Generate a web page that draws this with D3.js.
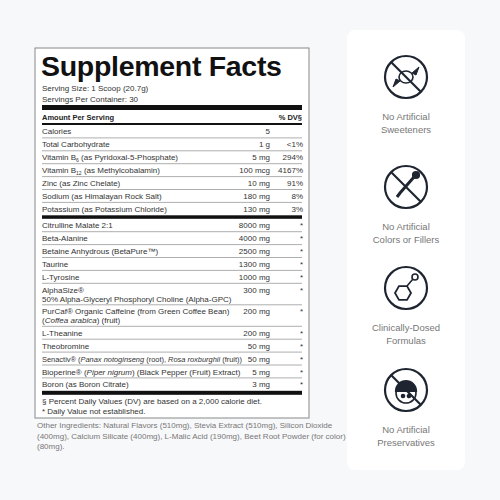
<!DOCTYPE html>
<html><head><meta charset="utf-8">
<script src="https://cdn.jsdelivr.net/npm/d3@7"></script>
<style>body{margin:0;background:#f7f8fa}svg{display:block}</style>
</head><body>
<script>
const title = "Supplement Facts";
const servingLines = ["Serving Size: 1 Scoop (20.7g)", "Servings Per Container: 30"];
const nutrients = ["Calories","Total Carbohydrate","Vitamin B6 (as Pyridoxal-5-Phosphate)","Vitamin B12 (as Methylcobalamin)","Zinc (as Zinc Chelate)","Sodium (as Himalayan Rock Salt)","Potassium (as Potassium Chloride)"];
const nutrientAmounts = ["5","1 g","5 mg","100 mcg","10 mg","180 mg","130 mg"];
const nutrientDV = ["","<1%","294%","4167%","91%","8%","3%"];
const blend = ["Citrulline Malate 2:1","Beta-Alanine","Betaine Anhydrous (BetaPure™)","Taurine","L-Tyrosine","AlphaSize®|50% Alpha-Glyceryl Phosphoryl Choline (Alpha-GPC)","PurCaf® Organic Caffeine (from Green Coffee Bean)|(Coffea arabica) (fruit)","L-Theanine","Theobromine","Senactiv® (Panax notoginseng (root), Rosa roxburghii (fruit))","Bioperine® (Piper nigrum) (Black Pepper (Fruit) Extract)","Boron (as Boron Citrate)"];
const blendAmounts = ["8000 mg","4000 mg","2500 mg","1300 mg","1000 mg","300 mg","200 mg","200 mg","50 mg","50 mg","5 mg","3 mg"];
const footnotes = ["§ Percent Daily Values (DV) are based on a 2,000 calorie diet.","* Daily Value not established."];
const otherIngredients = ["Other Ingredients: Natural Flavors (510mg), Stevia Extract (510mg), Silicon Dioxide","(400mg), Calcium Silicate (400mg), L-Malic Acid (190mg), Beet Root Powder (for color)","(80mg)."];
const badges = [["No Artificial","Sweeteners"],["No Artificial","Colors or Fillers"],["Clinically-Dosed","Formulas"],["No Artificial","Preservatives"]];

const svg = d3.select("body").append("svg").attr("width",500).attr("height",500);
const F = "Liberation Sans, Arial, sans-serif";
svg.append("rect").attr("width",500).attr("height",500).attr("fill","#f7f8fa");
const L = 35, R = 309;
svg.append("rect").attr("x",L).attr("y",48).attr("width",R-L).attr("height",370).attr("fill","#fff").attr("stroke","#888").attr("stroke-width",1);
svg.append("text").attr("x",41).attr("y",76).text(title).attr("font-family",F).attr("font-weight",900).attr("font-size",28.5).attr("fill","#111").attr("letter-spacing",-0.3);
servingLines.forEach((t,i)=>svg.append("text").attr("x",42).attr("y",91+i*11).text(t).attr("font-family",F).attr("font-size",8).attr("fill","#333"));
const bar=(y,h)=>svg.append("rect").attr("x",42).attr("y",y).attr("width",R-L-14).attr("height",h).attr("fill","#111");
const line=(y)=>svg.append("line").attr("x1",42).attr("x2",R-7).attr("y1",y).attr("y2",y).attr("stroke","#777").attr("stroke-width",0.6);
bar(105,5);
svg.append("text").attr("x",42).attr("y",120).text("Amount Per Serving").attr("font-family",F).attr("font-size",7.5).attr("font-weight",700).attr("fill","#222");
svg.append("text").attr("x",R-7).attr("y",120).attr("text-anchor","end").attr("font-family",F).attr("font-size",7.5).attr("font-weight",700).attr("fill","#222").text("% DV§");
bar(123,2);
const amtX=270, dvX=303;
const txt=(x,y,t,anchor)=>svg.append("text").attr("x",x).attr("y",y).attr("text-anchor",anchor||"start").attr("font-family",F).attr("font-size",8).attr("fill","#333").text(t);
const rowH=12.9;
const y1 = d3.scaleLinear().domain([0,1]).range([125,125+rowH]);
nutrients.forEach((n,i)=>{
  const y=y1(i)+rowH/2+3;
  const t=txt(42,y,"");
  const m=n.match(/^Vitamin B(\d+)(.*)$/);
  if(m){t.append("tspan").text("Vitamin B");t.append("tspan").attr("font-size",5).attr("dy",2).text(m[1]);t.append("tspan").attr("dy",-2).text(m[2]);}
  else t.text(n);
  txt(amtX,y,nutrientAmounts[i],"end");
  txt(dvX,y,nutrientDV[i],"end");
  if(i<nutrients.length-1) line(y1(i+1));
});
const yb0=y1(nutrients.length);
bar(yb0,3.5);
let y=yb0+3.5;
blend.forEach((b,i)=>{
  const parts=b.split("|");
  const h=parts.length>1?21.5:12.9;
  const cy=y+9.5;
  parts.forEach((p,j)=>{
    const t=txt(42,cy+j*9,"");
    const segs=p.split(/(Panax notoginseng|Rosa roxburghii|Piper nigrum|Coffea arabica)/);
    segs.forEach(s=>{ if(s) t.append("tspan").attr("font-style",/^(Panax|Rosa|Piper|Coffea)/.test(s)?"italic":null).text(s);});
    if(p.startsWith("Senactiv")) t.attr("textLength",200).attr("lengthAdjust","spacingAndGlyphs");
  });
  txt(amtX,cy,blendAmounts[i],"end");
  txt(dvX,cy,"*","end");
  y+=h;
  if(i<blend.length-1) line(y);
});
bar(y,4);
footnotes.forEach((f,i)=>txt(42,y+13+i*10,f));
otherIngredients.forEach((t,i)=>svg.append("text").attr("x",37).attr("y",428+i*10.5).attr("font-family",F).attr("font-size",8).attr("fill","#777").text(t));

svg.append("rect").attr("x",347).attr("y",30).attr("width",118).attr("height",440).attr("rx",8).attr("fill","#fff");
const cx=406, cys=[77,187,288,390];
badges.forEach((b,i)=>{
  const g=svg.append("g").attr("transform",`translate(${cx},${cys[i]})`).attr("fill","none").attr("stroke","#1e2530").attr("stroke-width",2.2);
  g.append("circle").attr("r",21);
  if(i!==2) g.append("line").attr("x1",-15).attr("y1",-15).attr("x2",15).attr("y2",15);
  if(i===0){g.append("ellipse").attr("rx",7).attr("ry",6).attr("stroke-width",1.6);
    g.append("path").attr("d","M6,-4 L13,-10 L10,-2 Z M-6,4 L-13,10 L-10,2 Z").attr("fill","#1e2530").attr("stroke-width",1);}
  if(i===1){g.append("path").attr("d","M8,-10 L-6,6 L-9,10").attr("stroke-width",3);
    g.append("circle").attr("cx",10).attr("cy",-12).attr("r",3).attr("fill","#1e2530");}
  if(i===2){const hex=d3.range(6).map(k=>[-3+8*Math.cos(k*Math.PI/3),5+8*Math.sin(k*Math.PI/3)]);
    g.append("path").attr("d","M"+hex.join("L")+"Z").attr("stroke-width",1.8);
    g.append("line").attr("x1",1).attr("y1",-2).attr("x2",7).attr("y2",-9).attr("stroke-width",1.6);
    g.append("circle").attr("cx",9).attr("cy",-11).attr("r",3).attr("stroke-width",1.6);}
  if(i===3){g.append("circle").attr("cy",3).attr("r",10).attr("stroke-width",1.6);
    g.append("path").attr("d","M-10,1 A10,10 0 0 1 10,1 Z").attr("fill","#1e2530");
    g.append("circle").attr("cx",-3).attr("cy",6).attr("r",1.2).attr("fill","#1e2530");
    g.append("circle").attr("cx",3).attr("cy",6).attr("r",1.2).attr("fill","#1e2530");}
  b.forEach((t,j)=>svg.append("text").attr("x",cx).attr("y",cys[i]+43+j*12.5).attr("text-anchor","middle").attr("font-family",F).attr("font-size",9.5).attr("fill","#777").text(t));
});
</script>
</body></html>
